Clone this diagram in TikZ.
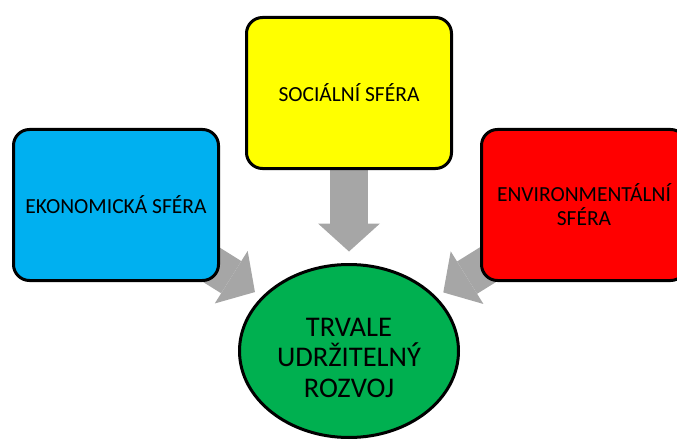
\documentclass[tikz,border=0pt]{standalone}
\usepackage{fontspec}
\setmainfont{Carlito}
\usetikzlibrary{
	shapes,
	arrows.meta,
	backgrounds}

\definecolor{ekonblue}{HTML}{00B0F0}
\definecolor{socyellow}{HTML}{FFFF00}
\definecolor{envred}{HTML}{FF0000}
\definecolor{tvrgreen}{HTML}{00B050}
\definecolor{flowgray}{HTML}{A6A6A6}

\begin{document}
\begin{tikzpicture}[x=1pt,y=-1pt]
  \tikzstyle{sphere}=[draw=black, line width=3pt, rounded corners=16pt,
    minimum width=205pt, minimum height=151pt, inner sep=1pt,
    align=center, text=black, font=\fontsize{21.5}{24}\selectfont]
  \tikzstyle{flow}=[draw=flowgray, line width=38pt,
    -{Triangle[length=28pt,width=62pt,line width=0pt]}]

  \useasboundingbox (0,0) rectangle (677,441);

  \node [sphere, fill=ekonblue] (ekon) at (116,205) {EKONOMICKÁ SFÉRA};
  \node [sphere, fill=socyellow] (soc) at (349,93) {SOCIÁLNÍ SFÉRA};
  \node [sphere, fill=envred] (env) at (584,205) {ENVIRONMENTÁLNÍ\\SFÉRA};
  \node [ellipse, draw=black, line width=3pt, fill=tvrgreen,
    minimum width=219pt, minimum height=173pt, inner sep=0pt,
    align=center, text=black, font=\fontsize{28.5}{30.5}\selectfont]
    (rozvoj) at (349,351) {\rule{0pt}{32pt}TRVALE\\UDRŽITELNÝ\\ROZVOJ};

  \begin{pgfonlayer}{background}
    \draw [flow, shorten >=111pt] (ekon.center) -- (rozvoj.center);
    \draw [flow, shorten >=11.5pt] (soc.south) -- (rozvoj.north);
    \draw [flow, shorten >=111pt] (env.center) -- (rozvoj.center);
  \end{pgfonlayer}
\end{tikzpicture}
\end{document}
